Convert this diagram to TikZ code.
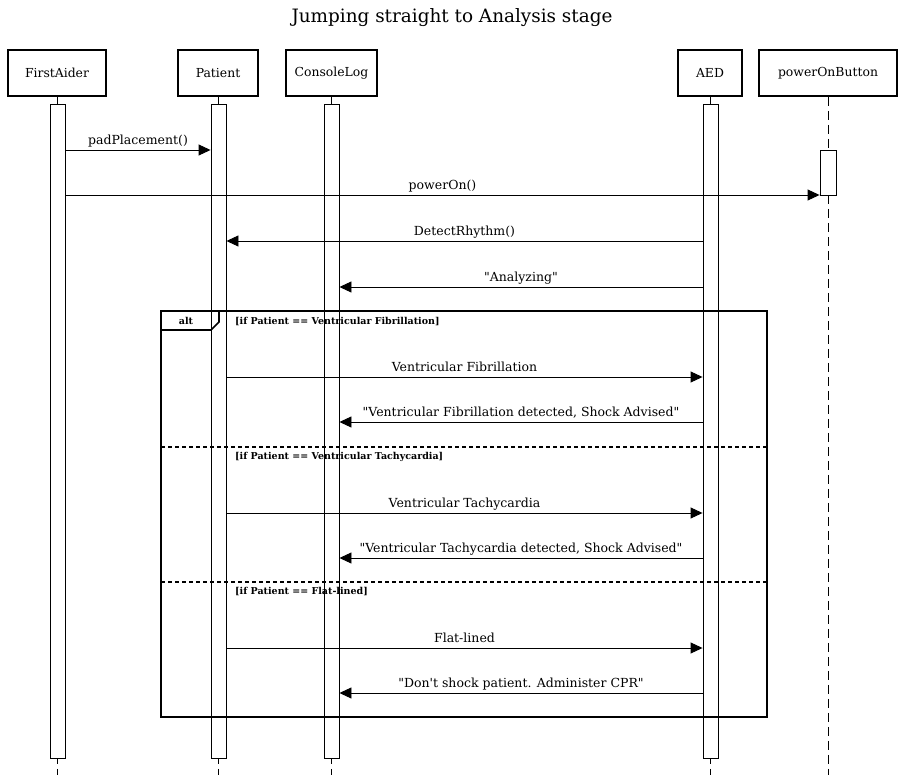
\documentclass[tikz,border=0pt]{standalone}
\usepackage{fontspec}
\setmainfont{DejaVu Serif}[Ligatures=TeXOff]
\usetikzlibrary{arrows.meta,positioning}
\tikzset{
  actor/.style={draw,line width=1.8pt,minimum height=46pt,inner sep=0pt,font=\fontsize{12.4}{14}\selectfont},
  bar/.style={draw,line width=0.9pt,fill=white,minimum width=15pt,inner sep=0pt},
  life/.style={line width=0.9pt,dash pattern=on 9pt off 5pt},
  msg/.style={line width=0.9pt,-{Triangle[length=12pt,width=11pt]}},
  lbl/.style={font=\fontsize{12.5}{14}\selectfont,inner sep=2pt,text height=9pt,text depth=3pt},
  guard/.style={font=\bfseries\fontsize{9.5}{10}\selectfont,anchor=west,inner sep=0pt}
}
\begin{document}
\begin{tikzpicture}[x=1pt,y=-1pt]
\useasboundingbox (0,0) rectangle (905,775);
\node[font=\fontsize{18.4}{22}\selectfont] (title) at (452,18) {Jumping straight to Analysis stage};
% participants and lifelines
\foreach \n/\x/\w/\t in {fa/57/98/FirstAider,pt/218/80/Patient,cl/331.5/91/ConsoleLog,aed/710/64/AED,pob/828/138/powerOnButton} {
  \node[actor,minimum width=\w pt] (\n) at (\x,73) {\t};
  \draw[life] (\n.south) -- (\x,775);
}
% activation bars
\foreach \n/\x in {fa/57.5,pt/218.5,cl/331.5,aed/710.5}
  \node[bar,minimum height=654pt] (\n b) at (\x,431) {};
\node[bar,minimum width=16pt,minimum height=45pt] (pobb) at (828,172.5) {};
% messages
\foreach \a/\b/\y/\t in {fab.east/ptb.west/150/{padPlacement()},fab.east/pobb.west/195/{powerOn()},
    aedb.west/ptb.east/241/{DetectRhythm()},aedb.west/clb.east/287/{"Analyzing"},
    ptb.east/aedb.west/377/{Ventricular Fibrillation},aedb.west/clb.east/422/{"Ventricular Fibrillation detected, Shock Advised"},
    ptb.east/aedb.west/513/{Ventricular Tachycardia},aedb.west/clb.east/558/{"Ventricular Tachycardia detected, Shock Advised"},
    ptb.east/aedb.west/648/{Flat-lined},aedb.west/clb.east/693/{"Don't shock patient. Administer CPR"}}
  \draw[msg] (\a |- 0,\y) -- (\b |- 0,\y) node[midway,above,lbl]{\t};
% alt frame
\draw[line width=1.6pt] (161,311) rectangle (767,717);
\draw[line width=1.6pt] (161,330) -- (211,330) -- (219,322) -- (219,311);
\node[font=\bfseries\fontsize{9.5}{10}\selectfont] (alt) at (186,321) {alt};
\node[guard] (g1) at (235,321.5) {[if Patient == Ventricular Fibrillation]};
\draw[line width=1.4pt,dash pattern=on 4pt off 3pt] (161,447) -- (767,447);
\node[guard] (g2) at (235,456.5) {[if Patient == Ventricular Tachycardia]};
\draw[line width=1.4pt,dash pattern=on 4pt off 3pt] (161,582) -- (767,582);
\node[guard] (g3) at (235,591.5) {[if Patient == Flat-lined]};
\end{tikzpicture}
\end{document}
